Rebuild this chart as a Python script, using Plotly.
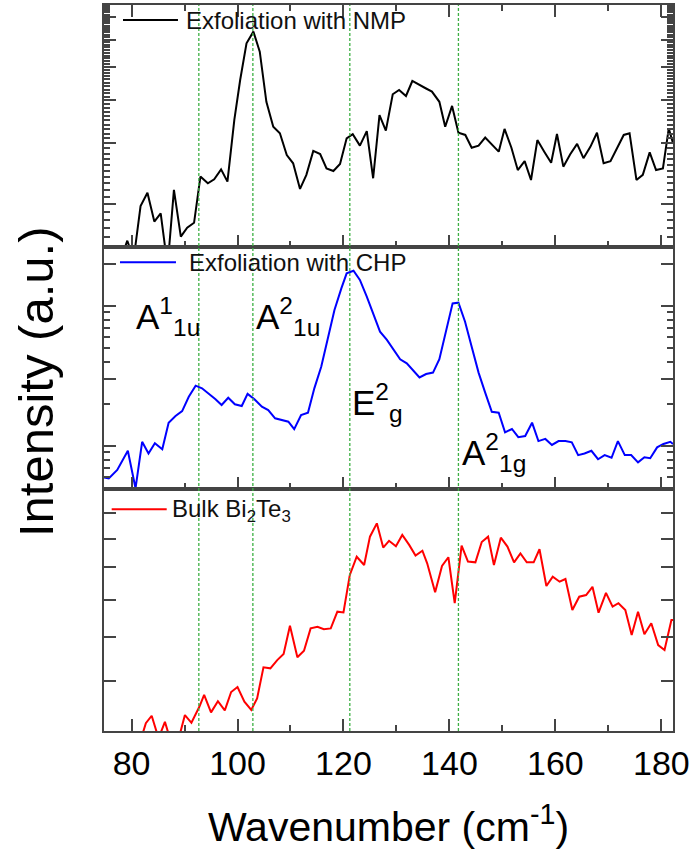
import math
import plotly.graph_objects as go
from plotly.subplots import make_subplots

# ---------------- data (relative intensity, 0-100 of panel height) ----------------
nmp_x = [75.0, 76.4, 77.8, 79.2, 80.4, 81.7, 83.0, 84.3, 85.5, 86.8, 88.0, 89.3, 90.5, 91.8,
         93.0, 94.4, 95.6, 96.9, 98.1, 99.4, 100.5, 101.7, 103.0, 104.2, 105.45, 106.75, 108.0,
         109.3, 110.5, 111.8, 113.0, 114.3, 115.6, 116.8, 118.1, 119.35, 120.6, 121.75, 123.1,
         124.4, 125.6, 126.8, 128.0, 129.3, 130.5, 131.8, 133.0, 134.3, 135.5, 136.7, 138.1,
         139.2, 140.5, 141.7, 143.0, 144.2, 145.5, 146.75, 148.0, 149.3, 150.4, 151.7, 152.9,
         154.2, 155.4, 156.6, 157.9, 159.2, 160.3, 161.5, 162.8, 164.1, 165.3, 166.6, 167.85,
         169.1, 170.4, 171.6, 172.9, 174.0, 175.3, 176.5, 177.8, 179.0, 180.3, 181.4, 182.2]
nmp_y = [-18, -14, -6, 2.6, -5, 16.9, 22.4, 10.5, 13.9, -8, 23.6, 4.3, 8.0, 10.0,
         29.1, 26.3, 28.0, 32.1, 27.0, 52.5, 69.0, 84.2, 89.0, 80.7, 60.0, 49.7, 47.0,
         38.0, 34.6, 24.0, 29.8, 39.7, 38.4, 32.5, 31.4, 34.3, 44.9, 46.6, 41.9,
         47.9, 28.4, 54.5, 48.1, 63.1, 64.9, 62.4, 68.6, 66.9, 65.6, 64.2, 60.0,
         49.7, 58.3, 47.2, 46.3, 41.0, 41.9, 45.2, 42.4, 39.4, 48.8, 41.0, 31.8,
         35.5, 27.7, 44.2, 39.4, 34.8, 46.7, 33.2, 38.3, 42.6, 36.7, 41.4, 47.2,
         34.6, 35.5, 40.5, 46.3, 47.0, 27.7, 29.8, 39.1, 31.8, 32.5, 49.0, 42.9]

chp_x = [74.8, 75.7, 77.3, 79.3, 80.75, 82.0, 83.2, 84.4, 85.8, 87.0, 88.3, 89.55, 90.8, 92.1,
         93.3, 94.6, 95.85, 97.0, 98.25, 99.5, 100.8, 101.9, 103.2, 104.6, 105.8, 107.1, 108.35,
         109.6, 110.7, 112.0, 113.3, 114.5, 115.8, 117.1, 118.3, 119.6, 120.6, 121.9, 123.1,
         124.4, 125.65, 126.9, 128.2, 129.4, 130.7, 131.95, 133.2, 134.35, 135.6, 136.9, 138.1,
         139.4, 140.6, 141.7, 142.95, 144.2, 145.5, 146.75, 148.0, 149.3, 150.5, 151.8, 153.0,
         154.3, 155.6, 156.8, 158.1, 159.35, 160.6, 161.9, 163.1, 164.3, 165.5, 166.8, 168.05,
         169.3, 170.6, 171.8, 173.1, 174.3, 175.6, 176.8, 177.9, 179.2, 180.4, 181.7, 182.2]
chp_y = [4.8, 4.4, 7.9, 15.8, 0.3, 19.5, 14.7, 18.9, 16.4, 27.4, 30.2, 32.2, 38.1, 42.7,
         41.6, 39.5, 37.1, 34.7, 37.7, 35.0, 34.3, 39.3, 37.1, 34.0, 32.6, 29.2, 28.5,
         27.8, 24.7, 30.6, 31.5, 41.6, 50.5, 62.9, 74.0, 82.9, 89.1, 90.2, 86.4,
         79.5, 71.9, 65.0, 61.6, 57.8, 53.6, 51.9, 48.9, 46.1, 47.5, 48.1, 53.6,
         65.0, 76.7, 77.0, 69.1, 58.8, 48.1, 39.8, 31.9, 31.5, 23.4, 24.8, 21.4,
         21.9, 27.4, 19.8, 20.7, 18.2, 19.8, 19.8, 19.3, 14.0, 14.7, 15.8, 12.3,
         14.0, 12.9, 19.8, 14.0, 14.0, 11.0, 13.1, 12.7, 17.2, 18.6, 19.5, 18.6]

bulk_x = [75.0, 76.3, 77.6, 78.8, 80.1, 81.4, 82.7, 83.8, 85.1, 86.3, 87.5, 88.8, 90.07, 91.3,
          92.8, 93.7, 95.0, 96.3, 97.6, 98.8, 100.0, 101.3, 102.6, 103.7, 104.9, 106.2, 107.5,
          108.7, 109.9, 111.3, 112.55, 113.8, 115.1, 116.3, 117.6, 118.85, 120.0, 121.2, 122.5,
          123.9, 125.0, 126.3, 127.5, 128.6, 129.9, 131.1, 132.4, 133.6, 134.9, 135.8, 137.3,
          138.6, 139.8, 141.0, 142.3, 143.5, 144.9, 146.1, 147.3, 148.4, 149.7, 150.95, 152.2,
          153.4, 154.6, 155.9, 157.0, 158.3, 159.5, 160.8, 161.9, 163.2, 164.5, 165.8, 167.0,
          168.15, 169.55, 170.8, 171.9, 173.2, 174.4, 175.6, 176.8, 178.1, 179.4, 180.6, 181.9, 182.2]
bulk_y = [-20, -18, -15, -12, -10, -6, 3.2, 6.3, -3, 3.8, -5, -4, 6.6, 3.4,
          10.0, 14.9, 7.7, 12.3, 8.5, 16.1, 18.2, 12.1, 8.7, 13.5, 26.3, 25.9, 29.3,
          31.8, 43.5, 30.5, 33.2, 42.4, 43.1, 42.1, 42.4, 49.3, 49.0, 64.5, 72.0,
          68.6, 80.3, 85.8, 75.8, 78.6, 76.3, 81.0, 76.9, 72.5, 74.5, 69.3, 57.3,
          68.2, 71.8, 52.8, 76.6, 70.0, 69.7, 78.1, 80.3, 68.6, 79.9, 76.2, 69.7,
          73.4, 69.7, 69.7, 75.1, 59.9, 63.8, 61.7, 62.8, 50.0, 55.5, 56.2, 59.6,
          48.9, 57.1, 51.4, 52.8, 50.0, 39.7, 49.3, 40.0, 44.5, 35.5, 33.5, 45.9, 45.9]

series_names = ["Exfoliation with NMP", "Exfoliation with CHP", "Bulk Bi<sub>2</sub>Te<sub>3</sub>"]
series_colors = ["#000000", "#0000ff", "#ff0000"]

peak_positions = [92.7, 102.9, 121.2, 141.7]
peak_labels = ["A<sup>1</sup><sub>1u</sub>", "A<sup>2</sup><sub>1u</sub>",
               "E<sup>2</sup><sub>g</sub>", "A<sup>2</sup><sub>1g</sub>"]

x_tickvals = [80, 100, 120, 140, 160, 180]
x_minor = [90, 110, 130, 150, 170]

# log-style tick marks of the original (each panel was a log intensity axis)
panel_log_bounds = [(1.50, 7.57), (0.493, 26.4), (4.07, 11.05)]
panel_major = [[2, 3, 4, 5, 6, 7], [1, 3, 10, 20], [5, 6, 7, 8, 9, 10]]
panel_minor = [[round(1.6 + 0.1 * i, 1) for i in range(60) if abs((1.6 + 0.1 * i) - round(1.6 + 0.1 * i)) > 1e-6],
               [0.6, 0.7, 0.8, 0.9, 2, 4, 5, 6, 7, 8, 9], []]

FONT = "Liberation Sans, Arial, sans-serif"
FRAME = "#444444"


def tick_pos(t, bounds):
    lo, hi = bounds
    return (math.log10(t) - math.log10(lo)) / (math.log10(hi) - math.log10(lo)) * 100


fig = make_subplots(rows=3, cols=1, shared_xaxes=True, vertical_spacing=0)

for i, (xs, ys) in enumerate([(nmp_x, nmp_y), (chp_x, chp_y), (bulk_x, bulk_y)]):
    fig.add_trace(go.Scatter(x=xs, y=ys, mode="lines", name=series_names[i],
                             line=dict(color=series_colors[i], width=2), showlegend=False),
                  row=i + 1, col=1)

for i in range(3):
    b = panel_log_bounds[i]
    mv = [v for v in panel_minor[i] if b[0] <= v <= b[1] and v not in panel_major[i]]
    fig.update_yaxes(
        row=i + 1, col=1, range=[0, 100], showticklabels=False,
        showline=True, linecolor=FRAME, linewidth=2, mirror="ticks",
        ticks="inside", tickvals=[tick_pos(v, b) for v in panel_major[i]],
        ticklen=12, tickwidth=1.5, tickcolor=FRAME, showgrid=False, zeroline=False,
        minor=dict(tickvals=[tick_pos(v, b) for v in mv], ticks="inside", ticklen=6,
                   tickwidth=1.5, tickcolor=FRAME, showgrid=False),
    )
    fig.update_xaxes(
        row=i + 1, col=1, range=[74.8, 182.2], showline=True, linecolor=FRAME, linewidth=2,
        mirror="ticks" if i == 0 else True, ticks="inside", tickvals=x_tickvals,
        ticklen=12, tickwidth=1.5, tickcolor=FRAME, showgrid=False, zeroline=False,
        minor=dict(tickvals=x_minor, ticks="inside", ticklen=6, tickwidth=1.5,
                   tickcolor=FRAME, showgrid=False),
    )

fig.update_xaxes(row=3, col=1, showticklabels=True,
                 tickfont=dict(family=FONT, size=34, color="#000000"),
                 ticklabelstandoff=1,
                 title=dict(text="Wavenumber (cm<sup>-1</sup>)", standoff=32,
                            font=dict(family=FONT, size=41, color="#000000")))

# dashed peak markers across all panels
for p in peak_positions:
    fig.add_shape(type="line", xref="x3", yref="paper", x0=p, x1=p, y0=0, y1=1,
                  line=dict(color="#3cb043", width=1.3, dash="3px,2px"), layer="above")

# legend keys (line sample + label) in each panel
legend_keys = [((0.0334, 0.130), 0.9793, 0.1406, 0.9793),
               ((0.0281, 0.1265), 0.6456, 0.1450, 0.6460),
               ((0.0135, 0.1102), 0.3054, 0.1160, 0.3040)]
for i, ((lx0, lx1), ly, tx, ty) in enumerate(legend_keys):
    fig.add_shape(type="line", xref="paper", yref="paper", x0=lx0, x1=lx1, y0=ly, y1=ly,
                  line=dict(color=series_colors[i], width=2))
    fig.add_annotation(xref="paper", yref="paper", x=tx, y=ty, text=series_names[i],
                       showarrow=False, xanchor="left", yanchor="middle",
                       font=dict(family=FONT, size=24, color="#111111"))

# peak labels
label_pos = [(0.053, 0.5715), (0.264, 0.5715), (0.4326, 0.4525), (0.626, 0.383)]
for (px, py), txt in zip(label_pos, peak_labels):
    fig.add_annotation(xref="paper", yref="paper", x=px, y=py, text=txt, showarrow=False,
                       xanchor="left", yanchor="middle",
                       font=dict(family=FONT, size=35, color="#000000"))

# y-axis title spanning all panels
fig.add_annotation(xref="paper", yref="paper", x=(36 - 104) / 569, y=(731 - 382) / 726,
                   text="Intensity (a.u.)", textangle=-90, showarrow=False,
                   xanchor="center", yanchor="middle",
                   font=dict(family=FONT, size=49, color="#000000"))

fig.update_layout(width=692, height=853, margin=dict(l=104, r=19, t=5, b=122, autoexpand=False),
                  paper_bgcolor="white", plot_bgcolor="white", showlegend=False)

fig.write_html("out.html")
